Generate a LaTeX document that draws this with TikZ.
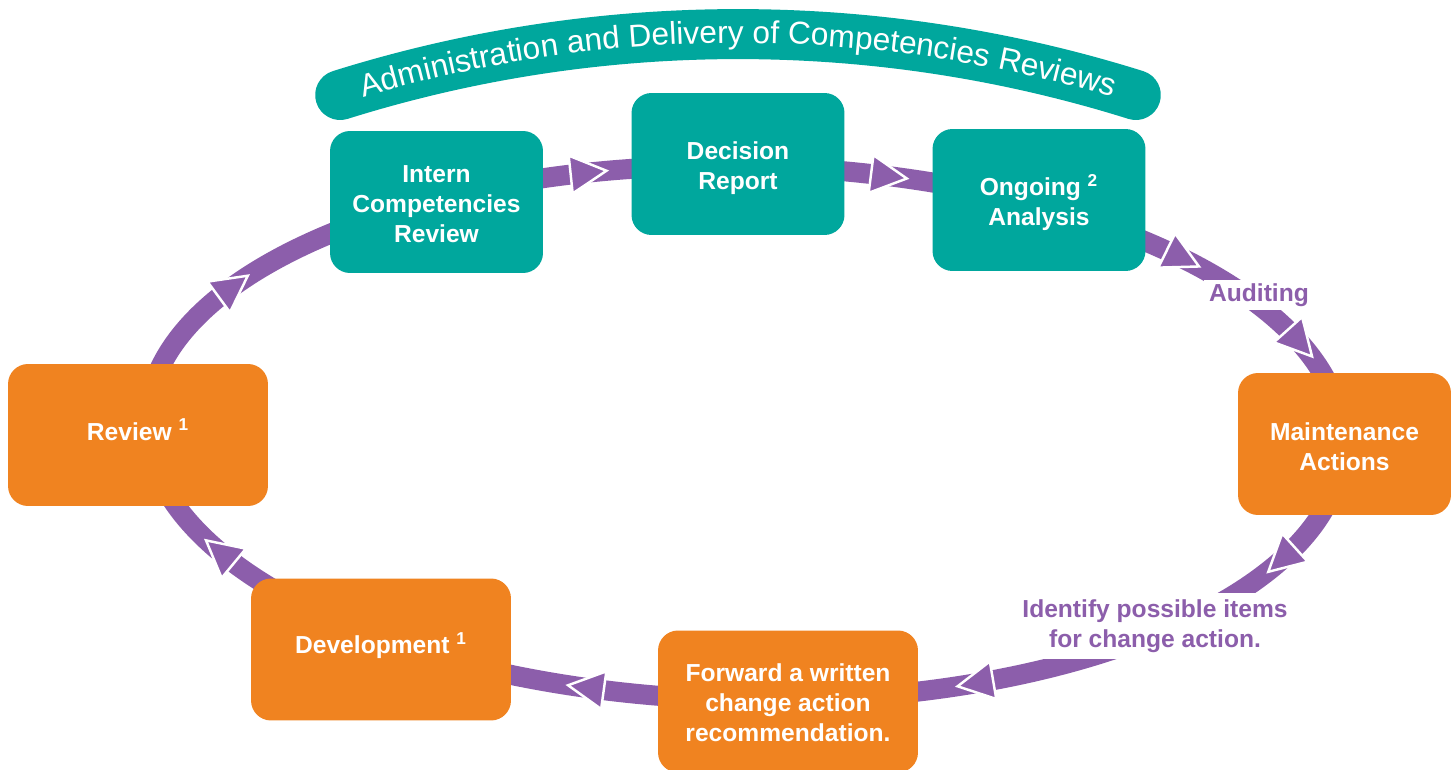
\documentclass[tikz,border=0pt]{standalone}
\usepackage{fontspec}
\setmainfont{Liberation Sans}
\usetikzlibrary{decorations.text}

\definecolor{boxteal}{RGB}{0,167,157}
\definecolor{boxorange}{RGB}{240,131,32}
\definecolor{ringpurple}{RGB}{140,94,171}

% move a box text up or down without changing the box
\newcommand{\nudge}[2]{\raisebox{#1}[\height][\depth]{\begin{tabular}{@{}c@{}}#2\end{tabular}}}

\tikzset{
  box/.style={rounded corners=0.4cm, minimum width=4.26cm, minimum height=2.84cm,
    align=center, text=white, inner sep=2pt,
    font=\fontsize{14}{17}\selectfont\bfseries},
  tealbox/.style={box, fill=boxteal},
  orangebox/.style={box, fill=boxorange},
  widebox/.style={minimum width=5.2cm},
  ring/.style={draw=ringpurple, line width=0.4cm},
  ahead/.style={fill=ringpurple, draw=white, line width=1.4pt, line join=miter},
  lbl/.style={fill=white, text=ringpurple, align=center, inner xsep=3pt, inner ysep=2pt,
    font=\fontsize{14}{17}\selectfont\bfseries},
  banner/.style={draw=boxteal, line width=1.0cm, line cap=round}
}

\begin{document}
\begin{tikzpicture}[x=0.02cm, y=-0.02cm]
\useasboundingbox (0,0) rectangle (1455,770);
\fill[white] (0,0) rectangle (1455,770);

% curved title banner
\draw[banner] (738,1363) ++(-107.42:1329) arc[start angle=-107.42, end angle=-72.58, radius=1329];
\path[decorate, decoration={text along path, text align=center,
  text={|\fontsize{18}{18}\selectfont\color{white}|Administration and Delivery of Competencies Reviews}}]
  (738,1363) ++(-110:1320) arc[start angle=-110, end angle=-70, radius=1320];

% the cycle ring with its arrowheads (clockwise)
\begin{scope}[shift={(745,433)}, rotate=-1.2]
  \draw[ring] (0,0) ellipse [x radius=598, y radius=267];
  \foreach \t in {-149.7,-105.9,-76.8,-43.7,-22.7,25.3,66.6,104.7,150.6}{
    \pgfmathsetmacro\ang{atan2(-267*cos(\t),-598*sin(\t))}
    \filldraw[ahead, shift={({598*cos(\t)},{267*sin(\t)})}, rotate=\ang]
      (20,0) -- (-16,19) -- (-16,-19) -- cycle;
  }
\end{scope}

% ring labels
\node[lbl] (audit) at (1259,295) {Auditing};
\node[lbl, inner ysep=4pt] (identify) at (1155,626) {Identify possible items\\for change action.};

% process boxes
\node[tealbox] (intern) at (436.5,202) {\nudge{-2.5pt}{Intern\\Competencies\\Review}};
\node[tealbox] (decision) at (738,164) {\nudge{-2.5pt}{Decision\\Report}};
\node[tealbox] (ongoing) at (1039,200) {\nudge{-2.5pt}{Ongoing \textsuperscript{2}\\Analysis}};
\node[orangebox] (maint) at (1344.5,444) {\nudge{-3pt}{Maintenance\\Actions}};
\node[orangebox, widebox] (forward) at (788,701.5) {\nudge{-2.5pt}{Forward a written\\change action\\recommendation.}};
\node[orangebox, widebox] (dev) at (381,649.5) {\nudge{1pt}{Development \textsuperscript{1}}};
\node[orangebox, widebox] (review) at (138,435) {\nudge{0.5pt}{Review \textsuperscript{1}}};
\end{tikzpicture}
\end{document}
